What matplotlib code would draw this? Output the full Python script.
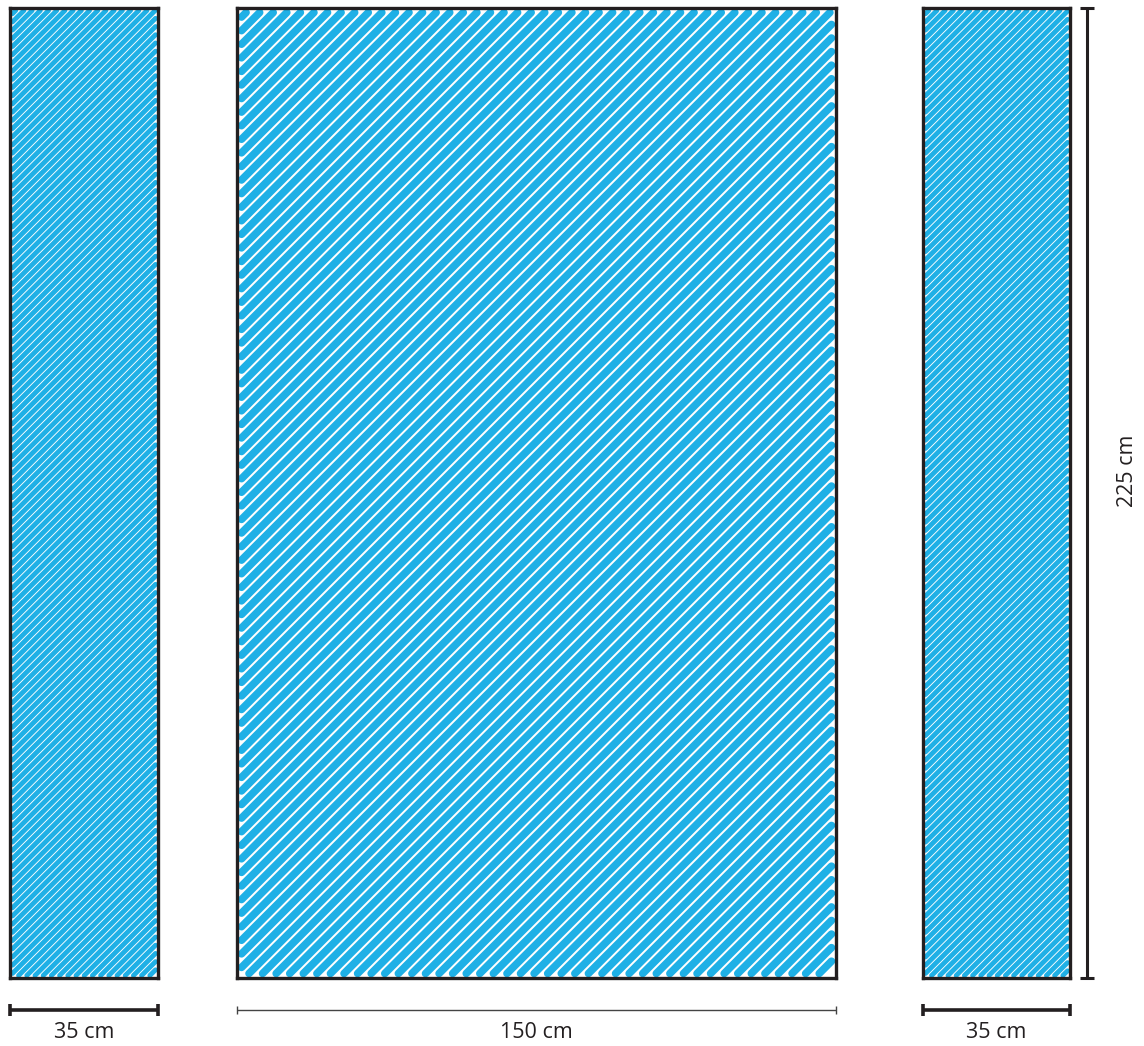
import numpy as np
import matplotlib.pyplot as plt

# panel sizes (cm) and labels
widths = [35, 150, 35]
width_labels = ['35 cm', '150 cm', '35 cm']
height = 225
height_label = '225 cm'

BLUE = '#1FB0E6'
INK = '#231F20'

W, H = 1144, 1046
fig = plt.figure(figsize=(W / 100, H / 100), dpi=100)

# pixel boxes of the three panels (left, right), shared top/bottom
boxes = [(10, 158), (237, 836), (923, 1070)]
top, bottom = 8, 978
# stroke pitch / width (px) and inset for each panel
pitch = [5.8, 9.6, 5.8]
stroke_px = [4.9, 7.6, 4.9]
inset = [2.5, 4.5, 2.5]
dim_style = [dict(lw=2.6, ms=9, color=INK), dict(lw=1.0, ms=6, color='#444444'),
             dict(lw=2.6, ms=9, color=INK)]

axes = []
for i, (x0, x1) in enumerate(boxes):
    wp, hp = x1 - x0, bottom - top
    ax = fig.add_axes([x0 / W, (H - bottom) / H, wp / W, hp / H])
    ax.set_xlim(0, widths[i])
    ax.set_ylim(0, height)
    ax.set_xticks([])
    ax.set_yticks([])
    for s in ax.spines.values():
        s.set_linewidth(2.4)
        s.set_color(INK)
        s.set_zorder(5)

    # diagonal scribble strokes, computed in pixel space then scaled to data
    m = inset[i]
    lo_x, hi_x, lo_y, hi_y = m, wp - m, m, hp - m
    sx, sy = widths[i] / wp, height / hp
    step = pitch[i] * np.sqrt(2)
    for c in np.arange(-hp, wp, step):
        # line y = x - c
        xa = max(lo_x, lo_y + c)
        xb = min(hi_x, hi_y + c)
        if xb <= xa:
            continue
        xs = np.array([xa, xb])
        ys = xs - c
        ax.plot(xs * sx, ys * sy, color=BLUE, lw=stroke_px[i] * 0.72,
                solid_capstyle='round', zorder=2)

    # width dimension line below the panel
    tr = ax.get_xaxis_transform()
    yd = -(1010 - bottom) / hp
    st = dim_style[i]
    ax.plot([0, widths[i]], [yd, yd], transform=tr, clip_on=False,
            color=st['color'], lw=st['lw'], marker='|', ms=st['ms'],
            mew=st['lw'], solid_capstyle='butt')
    ax.text(widths[i] / 2, -(1033 - bottom) / hp, width_labels[i], transform=tr,
            ha='center', va='center', fontsize=15.5, family='Open Sans',
            color=INK)
    axes.append(ax)

# height dimension line to the right of the last panel
ax = axes[-1]
wp = boxes[-1][1] - boxes[-1][0]
tr = ax.get_yaxis_transform()
xd = 1 + (1087 - boxes[-1][1]) / wp
ax.plot([xd, xd], [0, height], transform=tr, clip_on=False, color=INK,
        lw=2.2, marker='_', ms=10, mew=2.2, solid_capstyle='butt')
ax.text(1 + (1128 - boxes[-1][1]) / wp, height * 0.523, height_label,
        transform=tr, rotation=90, ha='center', va='center', fontsize=15.5,
        family='Open Sans', color=INK)

fig.savefig('out.png', dpi=100)
